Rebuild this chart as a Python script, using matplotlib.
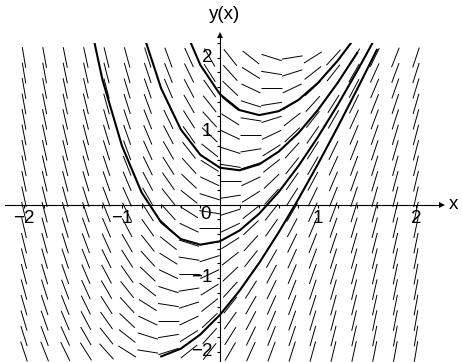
import numpy as np
import matplotlib.pyplot as plt
from matplotlib.collections import LineCollection
from matplotlib.patches import Rectangle

plt.rcParams['font.family'] = ['Liberation Sans', 'DejaVu Sans']

# direction field of y' = a*x + b*y
coef_x = 3.0
coef_y = -1.0
x_range = [-2.0, 2.0]
y_range = [-2.0, 2.0]
n_grid = 20
# solution curves through y(0) = y0
x_start = 0.0
y_start = [1.5, 0.5, -0.5, -1.5]
step = 0.2
x_ticks = [-2, -1, 1, 2]
y_ticks = [-2, -1, 1, 2]

# screen scale (pixels per unit) and origin position
px_x, px_y = 98.0, 73.5
org_x, org_y = 220.0, 204.5


def slope(x, y):
    return coef_x * x + coef_y * y


def rk4(x0, y0, h):
    # integrate until the curve leaves the y range (keep the first point outside)
    xs, ys = [x0], [y0]
    x, y = x0, y0
    while x_range[0] - 1e-9 <= x + h <= x_range[1] + 1e-9:
        k1 = slope(x, y)
        k2 = slope(x + h / 2, y + h / 2 * k1)
        k3 = slope(x + h / 2, y + h / 2 * k2)
        k4 = slope(x + h, y + h * k3)
        y = y + h / 6 * (k1 + 2 * k2 + 2 * k3 + k4)
        x = x + h
        xs.append(x)
        ys.append(y)
        if not (y_range[0] <= y <= y_range[1]):
            break
    return np.array(xs), np.array(ys)


fig = plt.figure(figsize=(4.62, 3.62), dpi=100)
ax = fig.add_axes([0, 0, 1, 1])
ax.set_xlim(-org_x / px_x, (462 - org_x) / px_x)
ax.set_ylim(-(362 - org_y) / px_y, org_y / px_y)
ax.axis('off')

# slope segments, constant length on screen
X, Y = np.meshgrid(np.linspace(*x_range, n_grid), np.linspace(*y_range, n_grid))
M = slope(X, Y)
half = 10.5
norm = np.hypot(px_x, px_y * M)
dx = half / norm
dy = half * M / norm
segs = np.stack([np.stack([X - dx, Y - dy], -1), np.stack([X + dx, Y + dy], -1)], -2).reshape(-1, 2, 2)
ax.add_collection(LineCollection(segs, colors='k', linewidths=0.7))

# solution curves
clip = Rectangle((-2.0, -2.2), 4.0, 4.4, transform=ax.transData)
for y0 in y_start:
    xb, yb = rk4(x_start, y0, -step)
    xf, yf = rk4(x_start, y0, step)
    xx = np.concatenate([xb[::-1], xf[1:]])
    yy = np.concatenate([yb[::-1], yf[1:]])
    line, = ax.plot(xx, yy, color='k', lw=1.5)
    line.set_clip_path(clip)

# axes through the origin
ax.plot([-2.19, 2.26], [0, 0], color='k', lw=0.8)
ax.plot([0, 0], [-2.2, 2.28], color='k', lw=0.8)
ax.plot(2.27, 0, marker='>', ms=5, color='k', mew=0)
ax.plot(0, 2.31, marker='^', ms=5, color='k', mew=0)

tl_x = 3.5 / px_y
tl_y = 3.5 / px_x
ticks = [[(t, 0), (t, -tl_x)] for t in np.arange(-2, 2.01, 0.2) if abs(t) > 1e-9]
ticks += [[(0, t), (-tl_y, t)] for t in np.arange(-2, 2.21, 0.2) if abs(t) > 1e-9]
ax.add_collection(LineCollection(ticks, colors='k', linewidths=0.8))

fs = 13.5
for t in x_ticks:
    ax.text(t, -0.08, str(t).replace('-', '\u2212'), ha='center', va='top', fontsize=fs)
for t in y_ticks:
    ax.text(-0.08, t, str(t).replace('-', '\u2212'), ha='right', va='center', fontsize=fs)
ax.text(-0.09, -0.02, '0', ha='right', va='top', fontsize=fs)
ax.text(2.33, 0, 'x', ha='left', va='center', fontsize=fs)
ax.text(0.05, 2.58, 'y(x)', ha='center', va='center', fontsize=fs)

fig.savefig('out.png', dpi=100)
